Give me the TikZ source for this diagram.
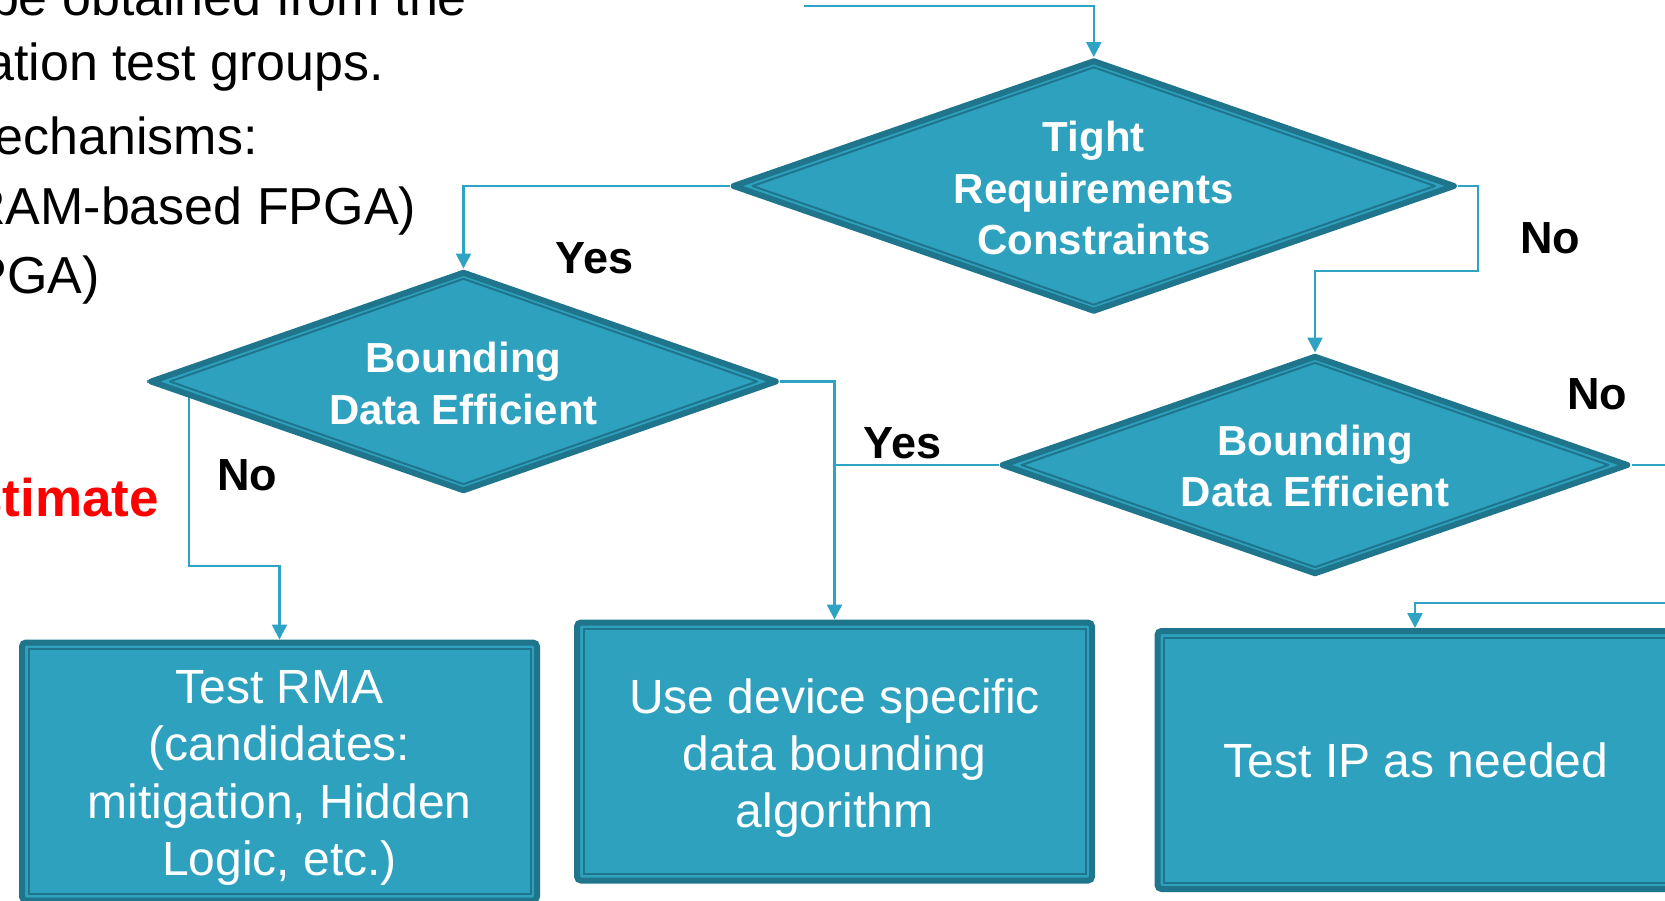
\documentclass[tikz,border=0pt]{standalone}
\usepackage{fontspec}
\setmainfont{Liberation Sans}
\usetikzlibrary{shapes.geometric,arrows.meta}
\definecolor{tealfill}{HTML}{2EA1BF}
\definecolor{tealedge}{HTML}{1F758C}
\definecolor{linkblue}{HTML}{2EA3C3}
\definecolor{alertred}{HTML}{FF0000}
\pgfdeclarelayer{paper}
\pgfdeclarelayer{links}
\pgfsetlayers{paper,links,main}
\begin{document}
\begin{tikzpicture}[x=1pt,y=-1pt,
  decision/.style={diamond, fill=tealfill, draw=tealedge, line width=6, line join=round, inner sep=0},
  decisionrim/.style={diamond, draw=tealedge, line width=2, line join=round, inner sep=0},
  decisiontext/.style={text=white, font=\fontsize{42}{51.5}\selectfont\bfseries, align=center, inner sep=0},
  actbox/.style={rectangle, fill=tealfill, draw=tealedge, line width=6, rounded corners=4,
    minimum width=515, minimum height=258, inner sep=0},
  actrim/.style={rectangle, draw=tealedge, line width=2, minimum width=502, minimum height=245, inner sep=0},
  acttext/.style={text=white, font=\fontsize{48}{57.3}\selectfont, align=center, inner sep=0},
  connector/.style={draw=linkblue, line width=2.5},
  flowarrow/.style={-{Triangle[width=15,length=15]}},
  answer/.style={font=\fontsize{45}{54}\selectfont\bfseries, inner sep=0},
  bodytext/.style={font=\fontsize{52}{62}\selectfont, inner sep=0, anchor=base east},
]
\useasboundingbox (0,0) rectangle (1665,900);
\begin{pgfonlayer}{paper}
  \fill[white] (0,0) rectangle (1665,900);
\end{pgfonlayer}
\clip (0,0) rectangle (1665,900);

% slide text on the left
\node[bodytext] (t1) at (467.2,15) {be obtained from the};
\node[bodytext] (t2) at (384.4,80) {ation test groups.};
\node[bodytext] (t3) at (258,154) {echanisms:};
\node[bodytext] (t4) at (416.3,224) {RAM-based FPGA)};
\node[bodytext] (t5) at (99.8,293) {PGA)};
\node[bodytext, font=\fontsize{53}{63}\selectfont\bfseries, text=alertred] (t6) at (159.3,516.7) {stimate};

% decisions
\node[decision, minimum width=722.6, minimum height=252] (d1) at (1093.8,186) {};
\node[decisionrim, minimum width=683.2, minimum height=238.2] (d1rim) at (d1) {};
\node[decisiontext] (d1label) at (1093.8,188) {Tight\\Requirements\\Constraints};

\node[decision, minimum width=627, minimum height=220] (d2) at (463.5,381.5) {};
\node[decisionrim, minimum width=587.8, minimum height=206.2] (d2rim) at (d2) {};
\node[decisiontext] (d2label) at (463.5,383.3) {Bounding\\Data Efficient};

\node[decision, minimum width=627, minimum height=219] (d3) at (1315,465) {};
\node[decisionrim, minimum width=587.6, minimum height=205.2] (d3rim) at (d3) {};
\node[decisiontext] (d3label) at (1315,466) {Bounding\\Data Efficient};

% actions
\node[actbox] (b1) at (279.5,771.5) {};
\node[actrim] (b1rim) at (b1) {};
\node[acttext] (b1label) at (279.5,778) {Test RMA\\(candidates:\\mitigation, Hidden\\Logic, etc.)};
\node[actbox] (b2) at (834.5,751.5) {};
\node[actrim] (b2rim) at (b2) {};
\node[acttext] (b2label) at (834.5,758) {Use device specific\\data bounding\\algorithm};
\node[actbox] (b3) at (1415,760) {};
\node[actrim] (b3rim) at (b3) {};
\node[acttext] (b3label) at (1416,760) {Test IP as needed};

% branch labels
\node[answer] (yes1) at (594.7,258) {Yes};
\node[answer] (no1) at (1550.4,238) {No};
\node[answer] (no2) at (1597.1,394) {No};
\node[answer] (yes2) at (902.6,443) {Yes};
\node[answer] (no3) at (247.4,475) {No};

% free ends and bends of the connectors
\coordinate (in1) at (804,6);
\coordinate (in2) at (1670,603);
\coordinate (out1) at (1670,465);
\coordinate (k1) at (1478,271);
\coordinate (n1) at (189,566);

\begin{pgfonlayer}{links}
  \draw[connector, flowarrow] (in1) -| (d1.north);
  \draw[connector, flowarrow] (d1.west) -| (d2.north);
  \draw[connector, flowarrow] (d1.east) -| (k1) -| (d3.north);
  \draw[connector, flowarrow] (d2.east) -| (b2.north);
  \draw[connector] (d3.west) -- (d3.west -| b2.north);
  \draw[connector] (d3.east) -- (out1);
  \draw[connector, flowarrow] (in2) -| (b3.north);
  \draw[connector, flowarrow] (d2.west) -| (n1) -| (b1.north);
\end{pgfonlayer}
\end{tikzpicture}
\end{document}
